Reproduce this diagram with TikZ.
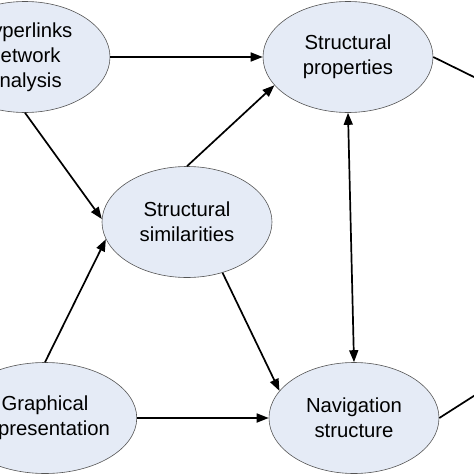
\documentclass[tikz,border=0pt]{standalone}
\usepackage{fontspec}
\setmainfont{Liberation Sans}
\usepackage{tikz}
\usetikzlibrary{shapes.geometric , arrows.meta}
\definecolor{ellfill}{RGB}{229,235,246}
\definecolor{ellline}{RGB}{85,85,85}

\begin{document}
\begin{tikzpicture}[x=1pt, y=-1pt, every node/.style={ellipse, draw=ellline, line width=0.6pt, fill=ellfill, minimum width=170pt, minimum height=111pt, inner sep=0pt, align=center, font=\fontsize{20.3}{24.8}\selectfont}, link/.style={line width=1.7pt, -{Triangle[length=12pt, width=9pt]}}]
\clip (0,0) rectangle (474,474);
% Nodes placed at their spots in the figure
\node (hyp) at (25,57) {Hyperlinks\\network\\analysis}; % Top-left
\node (props) at (348,57) {Structural\\properties}; % Top-right
\node (sim) at (187,222) {Structural\\similarities}; % Middle
\node (graph) at (45,418) {Graphical\\representation}; % Bottom-left
\node (nav) at (354,418) {Navigation\\structure}; % Bottom-right
% Free ends leaving the figure on the right
\coordinate (outA) at (480,80);
\coordinate (outB) at (480,392);
% Edges
\draw[link] (hyp) -- (props);
\draw[link] (hyp.south) -- (sim.178);
\draw[link] (graph.north) -- (sim.192);
\draw[link] (sim.north) -- (props.201);
\draw[link] (sim.-55) -- (nav.160);
\draw[link] (graph) -- (nav);
\draw[link, {Triangle[length=12pt, width=9pt]}-{Triangle[length=12pt, width=9pt]}] (props.south) -- (nav.north);
\draw[line width=1.7pt] (props.east) -- (outA);
\draw[line width=1.7pt] (nav.east) -- (outB);
\end{tikzpicture}
\end{document}
